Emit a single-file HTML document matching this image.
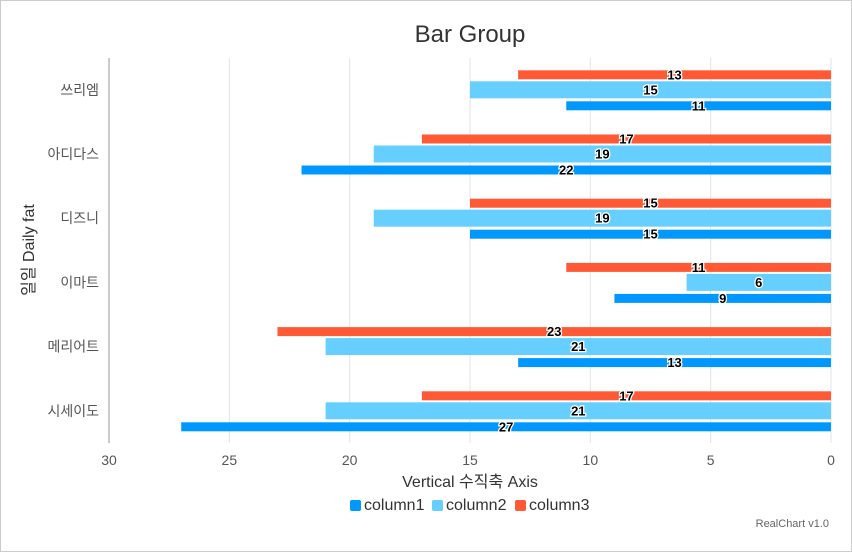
<!DOCTYPE html>
<html><head><meta charset="utf-8"><style>
body{margin:0;background:#fff;}
svg{display:block;font-family:"Liberation Sans","Noto Sans CJK KR",sans-serif;}
</style></head><body>
<svg id="c" width="852" height="552">
<rect x="0.5" y="0.5" width="851" height="551" fill="#fff" stroke="#ccc"/>
<text x="470" y="42" font-size="24" text-anchor="middle" fill="#333">Bar Group</text>
<g id="grid"></g><g id="bars"></g><g id="labels"></g>
<line x1="109" y1="58" x2="109" y2="443" stroke="#ccc" stroke-width="2"/>
<text x="470" y="487" font-size="16" text-anchor="middle" fill="#333">Vertical 수직축 Axis</text>
<text transform="translate(34,250) rotate(-90)" font-size="16" text-anchor="middle" fill="#333">일일 Daily fat</text>
<g>
<g><rect x="350" y="500" width="11" height="11" rx="2" fill="#0098ff"/><text x="364" y="510" font-size="16" fill="#333">column1</text></g>
<g><rect x="432" y="500" width="11" height="11" rx="2" fill="#66cfff"/><text x="446" y="510" font-size="16" fill="#333">column2</text></g>
<g><rect x="515" y="500" width="11" height="11" rx="2" fill="#ff5a35"/><text x="529" y="510" font-size="16" fill="#333">column3</text></g>
</g>
<text x="829" y="527" font-size="11" text-anchor="end" fill="#666">RealChart v1.0</text>
</svg>
<script>
const categories=["쓰리엠","아디다스","디즈니","이마트","메리어트","시세이도"];
const column1=[11,22,15,9,13,27];
const column2=[15,19,19,6,21,21];
const column3=[13,17,15,11,23,17];
const ticks=[0,5,10,15,20,25,30];
const NS="http://www.w3.org/2000/svg";
const X0=831,X1=109,MAX=30;
function xs(v){return X0-(X0-X1)*v/MAX;}
function yc(i){return 89.8+i*64.2;}
function mk(t,a,p){const e=document.createElementNS(NS,t);for(const k in a)e.setAttribute(k,a[k]);p.appendChild(e);return e;}
const grid=document.getElementById('grid'),bars=document.getElementById('bars'),labels=document.getElementById('labels');
ticks.forEach(t=>{
  const l=mk('line',{x1:xs(t),x2:xs(t),y1:58,y2:443,stroke:'#e3e3e3'},grid);
  
  
  const tx=mk('text',{x:xs(t),y:465,'font-size':14,'text-anchor':'middle',fill:'#555'},grid);
  tx.textContent=t;
  
  
});
categories.forEach((c,i)=>{
  const t=mk('text',{x:99,y:yc(i)+5,'font-size':14,'text-anchor':'end',fill:'#555'},grid);
  t.textContent=c;
  
  
});
const series=[[column3,'#ff5a35',-15,9,'column3'],[column2,'#66cfff',0,17,'column2'],[column1,'#0098ff',16,9,'column1']];
series.forEach(([vals,col,off,h,nm])=>{
  vals.forEach((v,i)=>{
    const cy=yc(i)+off;
    const r=mk('rect',{x:xs(v),y:cy-h/2,width:xs(0)-xs(v),height:h,fill:col},bars);
    
    
    const t=mk('text',{x:(xs(v)+xs(0))/2,y:cy+4.5,'font-size':13,'font-weight':'bold','text-anchor':'middle',fill:'#000',stroke:'#fff','stroke-width':2.5,'paint-order':'stroke'},labels);
    t.textContent=v;
    
    
  });
});
</script>
</body></html>
